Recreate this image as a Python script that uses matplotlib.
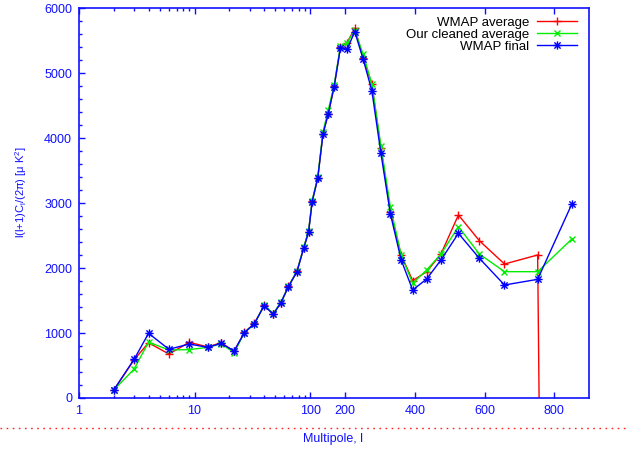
import numpy as np
import matplotlib
matplotlib.use("Agg")
import matplotlib.pyplot as plt
from matplotlib.path import Path
from matplotlib.lines import Line2D

plt.rcParams['font.family'] = ['Liberation Sans', 'DejaVu Sans']
plt.rcParams['mathtext.default'] = 'regular'
plt.rcParams['mathtext.fontset'] = 'custom'
plt.rcParams['mathtext.rm'] = 'Liberation Sans'

# multipole bins
ell = [2, 3, 4, 6, 9, 13, 17, 22, 27, 33, 40, 48, 56, 65, 77, 88, 97,
       106, 122, 137, 152, 169, 187, 206, 228, 252, 277, 303, 330, 361,
       394, 434, 475, 525, 585, 657, 752, 850]

wmap_avg = [123, 590, 850, 677, 857, 787, 850, 720, 1010, 1150, 1425, 1295,
            1470, 1720, 1950, 2310, 2560, 3030, 3390, 4070, 4380, 4800, 5400,
            5470, 5692, 5240, 4834, 3843, 2869, 2202, 1806, 1945, 2217, 2818,
            2422, 2063, 2202, -50000]

cleaned_avg = [123, 446, 860, 739, 745, 780, 835, 698, 1006, 1140, 1430, 1300,
               1475, 1725, 1950, 2320, 2570, 3040, 3400, 4100, 4430, 4820, 5420,
               5470, 5660, 5292, 4834, 3880, 2946, 2202, 1766, 1971, 2217, 2638,
               2217, 1945, 1945, 2448]

wmap_final = [123, 596, 996, 750, 831, 780, 842, 723, 1006, 1145, 1421, 1290,
              1468, 1714, 1945, 2305, 2551, 3022, 3383, 4065, 4373, 4793, 5393,
              5368, 5640, 5219, 4731, 3767, 2838, 2125, 1663, 1832, 2125, 2535,
              2151, 1740, 1827, 2987]

xticks = [1, 10, 100, 200, 400, 600, 800]
xminor = [2, 3, 4, 5, 6, 7, 8, 9, 20, 30, 40, 50, 60, 70, 80, 90]

# log below l=100, linear above
K = 0.003021


def fwd(x):
    x = np.asarray(x, dtype=float)
    lg = np.log10(np.clip(x, 1e-3, None))
    return np.where(x <= 100, lg, 2 + (x - 100) * K)


def inv(y):
    y = np.asarray(y, dtype=float)
    return np.where(y <= 2, 10 ** np.clip(y, -5, 2), 100 + (y - 2) / K)


# gnuplot style asterisk: plus and cross together
star_path = Path(
    [(-1, 0), (1, 0), (0, -1), (0, 1),
     (-0.75, -0.75), (0.75, 0.75), (-0.75, 0.75), (0.75, -0.75)],
    [Path.MOVETO, Path.LINETO] * 4)

blue = '#1010ff'
fig = plt.figure(figsize=(6.3, 4.51), dpi=100)
ax = fig.add_axes([79 / 630, 1 - 398 / 451, (589.3 - 79) / 630, (398 - 8.3) / 451])
ax.set_xscale('function', functions=(fwd, inv))

ax.plot(ell, wmap_avg, color='#ff0000', lw=1, marker='+', ms=6, mew=1,
        label='WMAP average')
ax.plot(ell, cleaned_avg, color='#00ee00', lw=1, marker='x', ms=5, mew=1,
        label='Our cleaned average')
ax.plot(ell, wmap_final, color='#0000ff', lw=1, marker=star_path, ms=6, mew=1,
        mfc='none', label='WMAP final')

ax.set_xlim(1, 900)
ax.set_ylim(0, 6000)
ax.set_xticks(xticks)
ax.set_xticklabels([str(t) for t in xticks])
ax.set_xticks(xminor, minor=True)
ax.set_yticks(range(0, 6001, 1000))
ax.set_yticks(range(0, 6001, 200), minor=True)

for s in ax.spines.values():
    s.set_color(blue)
    s.set_linewidth(1.2)
ax.tick_params(which='both', direction='in', colors=blue, labelsize=9,
               top=True, right=False, pad=5)
ax.tick_params(which='major', length=4.5, width=1)
ax.tick_params(which='minor', length=2.5, width=1)

fig.text(21 / 630, 1 - 192 / 451, r'l(l+1)C$_\mathrm{l}$/(2π) [μ K$^2$]',
         rotation=90, ha='center', va='center', color=blue, fontsize=8)
fig.text(333 / 630, 1 - 439 / 451, 'Multipole, l', ha='center', va='center',
         color=blue, fontsize=9)
fig.add_artist(Line2D([0, 1], [1 - 428 / 451, 1 - 428 / 451], color='#ff2020',
                      lw=1, linestyle=(0, (1.2, 3.2)), transform=fig.transFigure))

ax.legend(loc='upper right', bbox_to_anchor=(577 / 630, 1 - 16.5 / 451),
          bbox_transform=fig.transFigure, frameon=False, markerfirst=False,
          fontsize=9.5, handlelength=3, handletextpad=0.6, labelspacing=-0.02,
          borderpad=0, borderaxespad=0)

fig.savefig('out.png', dpi=100)
